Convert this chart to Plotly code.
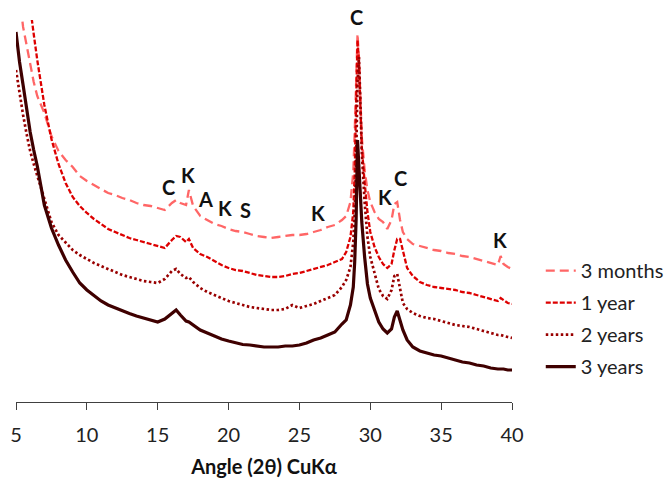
import plotly.graph_objects as go

# 2-theta angles (degrees)
angle = [5.0, 5.25, 5.5, 5.75, 6.0, 6.25, 6.5, 7.0, 7.5, 8.0, 8.5, 9.0, 9.5, 10, 10.5, 11, 11.5, 12, 12.5, 13,
         13.5, 14, 14.5, 15, 15.5, 16, 16.3, 16.6, 17.0, 17.2, 17.5, 18, 18.5, 19, 19.5, 20, 20.5, 21, 21.5, 22,
         22.5, 23, 23.5, 24, 24.5, 25, 25.5, 26, 26.5, 27, 27.5, 28, 28.3, 28.6, 28.8, 28.9, 29.0, 29.1, 29.2, 29.3,
         29.4, 29.6, 29.8, 30.0, 30.3, 30.6, 30.9, 31.2, 31.5, 31.7, 31.9, 32.1, 32.3, 32.6, 33, 33.5, 34, 34.5, 35,
         35.5, 36, 36.5, 37, 37.5, 38, 38.5, 39, 39.2, 39.4, 39.7, 40]

# intensities (arbitrary units, offset patterns)
months3 = [450, 405, 375, 356, 337, 320, 306, 289, 266, 251, 242, 235, 226, 221, 217, 213, 209, 207, 204, 202,
           199, 197, 196, 194, 192, 199, 202, 199, 197, 212, 196, 186, 182, 178, 176, 173, 171, 170, 168, 166,
           165, 164, 165, 166, 167, 167, 168, 170, 172, 175, 177, 182, 186, 200, 230, 270, 330, 368, 345, 300,
           265, 232, 212, 200, 190, 183, 180, 173, 182, 198, 200, 182, 170, 163, 158, 156, 154, 152, 151,
           149, 148, 146, 145, 143, 141, 139, 137, 146, 138, 135, 133]
year1 = [480, 460, 435, 415, 395, 368, 342, 297, 263, 238, 219, 205, 196, 189, 183, 178, 173, 170, 167, 164,
         162, 160, 158, 156, 154, 162, 166, 165, 160, 163, 154, 148, 145, 141, 137, 134, 132, 131, 129, 127,
         126, 125, 125, 126, 128, 129, 131, 133, 135, 137, 140, 143, 150, 165, 190, 230, 300, 362, 340, 290,
         255, 220, 190, 170, 155, 145, 138, 134, 138, 152, 163, 163, 150, 134, 126, 120, 117, 115, 114,
         113, 112, 110, 109, 107, 105, 103, 101, 104, 102, 99, 98]
years2 = [332, 307, 287, 268, 251, 238, 226, 202, 180, 167, 159, 152, 147, 143, 139, 136, 133, 130, 127, 125,
          123, 121, 120, 119, 123, 131, 133, 128, 124, 125, 120, 114, 110, 107, 104, 101, 99, 97, 95, 94,
          93, 92, 92, 93, 97, 94, 96, 98, 101, 104, 107, 115, 122, 135, 160, 190, 240, 320, 345, 300,
          250, 200, 165, 145, 128, 113, 106, 103, 112, 126, 128, 112, 99, 93, 89, 86, 84, 83, 81,
          79, 77, 76, 75, 73, 71, 69, 67, 67, 66, 65, 64]
years3 = [370, 340, 317, 293, 270, 252, 236, 197, 174, 157, 142, 130, 119, 112, 106, 101, 97, 94, 91, 88.5,
          86, 84, 82, 80, 83, 89, 92, 87, 81, 80, 77, 72, 69, 66, 63, 61, 59, 57.5, 57, 56,
          55, 55, 55, 56, 56, 57, 59, 62, 64, 67, 70, 78, 82, 97, 115, 140, 182, 262, 235, 205,
          180, 145, 118, 104, 92, 80, 73, 69, 73, 85, 91, 80, 72, 62, 55, 51, 49, 47, 46,
          44, 42, 40, 39, 37, 36, 34, 33, 33, 33, 32, 32]

series_names = ["3 months", "1 year", "2 years", "3 years"]
series_vals = [months3, year1, years2, years3]
colors = ["#FF6666", "#DD0000", "#990000", "#3F0000"]
dashes = ["9px,5px", "5px,2px", "2.5px,2.5px", "solid"]
widths = [2.3, 2.3, 2.7, 3.2]

# peak labels
lab_text = ["C", "K", "A", "K", "S", "K", "K", "C", "K"]
lab_x = [15.73, 17.14, 18.34, 19.75, 21.16, 26.31, 31.04, 32.1, 39.16]
lab_y = [215, 227, 203, 194, 192, 189, 205, 224, 162]

fig = go.Figure()
for i in range(4):
    fig.add_trace(go.Scatter(
        x=angle, y=series_vals[i], mode="lines", name=series_names[i],
        legendgroup=series_names[i],
        line=dict(color=colors[i], dash=dashes[i], width=widths[i]),
    ))

for t, xv, yv in zip(lab_text, lab_x, lab_y):
    fig.add_annotation(x=xv, y=yv, text="<b>%s</b>" % t, showarrow=False,
                       font=dict(family="Lato", size=20, color="#111111"))
# main calcite peak label above the plot top
fig.add_annotation(x=29.0, xref="x", y=1.008, yref="paper", text="<b>C</b>", showarrow=False,
                   yanchor="middle", font=dict(family="Lato", size=20, color="#111111"))

fig.update_layout(
    width=671, height=483,
    margin=dict(l=16, r=159, t=20, b=81, autoexpand=False),
    paper_bgcolor="white", plot_bgcolor="white",
    font=dict(family="Lato", color="#222222"),
    showlegend=True,
    legend=dict(x=1.058, xanchor="left", y=0.395, yanchor="top",
                font=dict(size=20, color="#222222"), tracegroupgap=3,
                bgcolor="rgba(0,0,0,0)"),
    xaxis=dict(range=[5, 40], tickvals=[5, 10, 15, 20, 25, 30, 35, 40],
               ticks="outside", ticklen=7, tickcolor="#404040",
               showline=True, linecolor="#404040", linewidth=1,
               showgrid=False, zeroline=False, ticklabelstandoff=8,
               tickfont=dict(size=20, color="#222222"),
               title=dict(text="<b>Angle (2θ) CuKα</b>", font=dict(size=20, color="#111111"), standoff=14)),
    yaxis=dict(range=[0, 382], visible=False),
)

fig.write_html("out.html")
